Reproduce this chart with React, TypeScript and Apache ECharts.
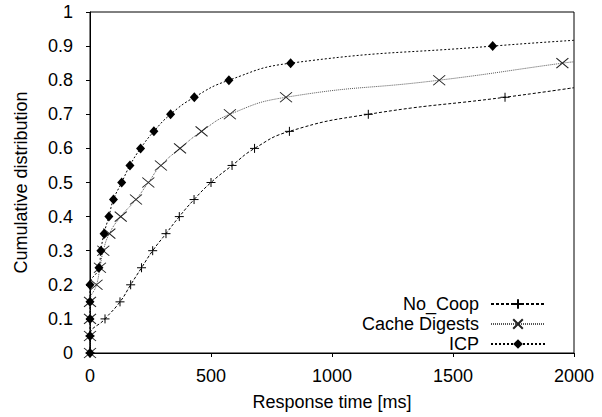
import React, { useEffect, useRef } from "react";
import * as echarts from "echarts";

const noCoopX = [0, 0, 62, 124, 168, 213, 259, 314, 369, 430, 500, 587, 680, 824, 1150, 1715, 2000];
const noCoopY = [0, 0.05, 0.1, 0.15, 0.2, 0.25, 0.3, 0.35, 0.4, 0.45, 0.5, 0.55, 0.6, 0.65, 0.7, 0.75, 0.778];

const digestsX = [0, 0, 0, 0, 27, 41, 55, 80, 127, 190, 241, 293, 372, 461, 578, 810, 1443, 1952, 2000];
const digestsY = [0, 0.05, 0.1, 0.15, 0.2, 0.25, 0.3, 0.35, 0.4, 0.45, 0.5, 0.55, 0.6, 0.65, 0.7, 0.75, 0.8, 0.85, 0.854];

const icpX = [0, 0, 0, 0, 0, 37, 45, 58, 78, 97, 131, 165, 209, 264, 333, 431, 574, 829, 1664, 2000];
const icpY = [0, 0.05, 0.1, 0.15, 0.2, 0.25, 0.3, 0.35, 0.4, 0.45, 0.5, 0.55, 0.6, 0.65, 0.7, 0.75, 0.8, 0.85, 0.9, 0.917];

const seriesNames = ["No_Coop", "Cache Digests", "ICP"];

const FONT = "Liberation Sans, Arial, Helvetica, sans-serif";

function build(xs: number[], ys: number[]) {
  return xs.map((x, i) =>
    i === xs.length - 1 ? { value: [x, ys[i]], symbol: "none" } : { value: [x, ys[i]] }
  );
}

export default function App() {
  const ref = useRef<HTMLDivElement>(null);
  useEffect(() => {
    if (!ref.current) return;
    const chart = echarts.init(ref.current, undefined, { renderer: "svg" });
    chart.setOption({
      animation: false,
      backgroundColor: "#fff",
      textStyle: { fontFamily: FONT },
      grid: {
        left: 90,
        right: 28,
        top: 12,
        bottom: 64,
        show: true,
        borderColor: "#000",
        borderWidth: 1,
        containLabel: false,
      },
      legend: {
        orient: "vertical",
        align: "right",
        right: 51,
        top: 290,
        itemWidth: 54,
        itemHeight: 12,
        itemGap: 2,
        textStyle: { fontFamily: FONT, fontSize: 18, lineHeight: 16, color: "#000", padding: [0, 7, 0, 0] },
        data: seriesNames,
      },
      xAxis: {
        type: "value",
        min: 0,
        max: 2000,
        interval: 500,
        name: "Response time [ms]",
        nameLocation: "middle",
        nameGap: 40,
        nameTextStyle: { fontFamily: FONT, fontSize: 18, color: "#000" },
        axisLine: { show: true, lineStyle: { color: "#000", width: 1 } },
        axisTick: { show: true, length: 4, inside: false, lineStyle: { color: "#000" } },
        axisLabel: {
          fontFamily: FONT,
          fontSize: 18,
          color: "#000",
          margin: 14,
          formatter: (v: number) => String(v),
        },
        splitLine: { show: false },
      },
      yAxis: {
        type: "value",
        min: 0,
        max: 1,
        interval: 0.1,
        name: "Cumulative distribution",
        nameLocation: "middle",
        nameGap: 60,
        nameTextStyle: { fontFamily: FONT, fontSize: 18, color: "#000" },
        axisLine: { show: true, lineStyle: { color: "#000", width: 1 } },
        axisTick: { show: true, length: 4, inside: false, lineStyle: { color: "#000" } },
        axisLabel: {
          fontFamily: FONT,
          fontSize: 18,
          color: "#000",
          margin: 17,
          formatter: (v: number) => String(Math.round(v * 10) / 10),
        },
        splitLine: { show: false },
      },
      series: [
        {
          name: seriesNames[0],
          type: "line",
          smooth: 0.5,
          data: build(noCoopX, noCoopY),
          symbol: "path://M5,0 L5,10 M0,5 L10,5",
          symbolSize: 9,
          itemStyle: { color: "#000", borderColor: "#000", borderWidth: 1 },
          lineStyle: { color: "#000", width: 1, type: [3, 2] },
          z: 3,
        },
        {
          name: seriesNames[1],
          type: "line",
          smooth: 0.5,
          data: build(digestsX, digestsY),
          symbol: "path://M0,0 L12,10 M12,0 L0,10",
          symbolSize: [12, 10],
          itemStyle: { color: "#222", borderColor: "#222", borderWidth: 1 },
          lineStyle: { color: "#555", width: 1, type: [1, 1] },
          z: 2,
        },
        {
          name: seriesNames[2],
          type: "line",
          smooth: 0.5,
          data: build(icpX, icpY),
          symbol: "diamond",
          symbolSize: [9, 10],
          itemStyle: { color: "#000", borderColor: "#000", borderWidth: 0 },
          lineStyle: { color: "#000", width: 1, type: [2, 2] },
          z: 4,
        },
      ],
    });
    return () => chart.dispose();
  }, []);
  return <div ref={ref} style={{ width: 602, height: 417, position: "absolute", left: 0, top: 0 }} />;
}
